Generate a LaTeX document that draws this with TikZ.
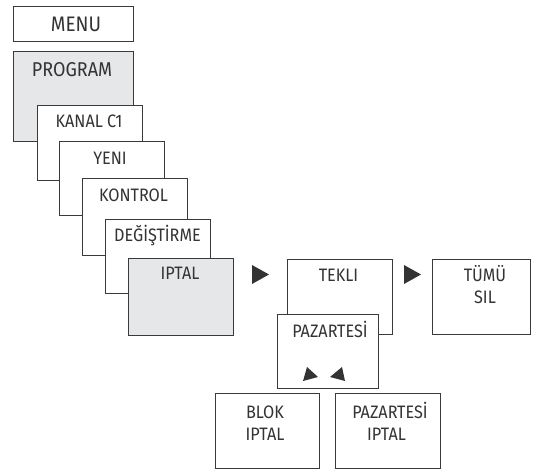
\documentclass[tikz,border=0pt]{standalone}
\usepackage{fontspec}
\setmainfont{Fira Sans}[FakeStretch=0.9]
\definecolor{boxgray}{HTML}{E6E7E8}
\definecolor{edge}{HTML}{3A3A3A}
\definecolor{ink}{HTML}{333333}
\begin{document}
\begin{tikzpicture}[x=1pt,y=-1pt,
  box/.style={draw=edge, line width=0.8pt, fill=white},
  graybox/.style={box, fill=boxgray},
  lbl/.style={anchor=base, inner sep=0pt, text=ink, font=\fontsize{18}{18}\selectfont},
  tri/.style={fill=ink, draw=none}]
\useasboundingbox (0,0) rectangle (533,470);
% left stack
\draw[box] (13,6) rectangle (133,41);
\node[lbl, font=\fontsize{21}{21}\selectfont] (tmenu) at (76,31.5) {MENU};
\draw[graybox] (13,51) rectangle (133,141);
\node[lbl, font=\fontsize{20}{20}\selectfont] (tprog) at (72,77) {PROGRAM};
\draw[box] (37,105) rectangle (142,180);
\node[lbl] (tkanal) at (89,128) {KANAL C1};
\draw[box] (59,141) rectangle (164,215);
\node[lbl] (tyeni) at (110,165) {YENI};
\draw[box] (82,178) rectangle (187,255);
\node[lbl] (tkontrol) at (133.5,201.5) {KONTROL};
\draw[box] (105,219) rectangle (210,293);
\node[lbl] (tdegis) at (157.5,242) {DEĞİŞTİRME};
\draw[graybox] (128,258) rectangle (233,335);
\node[lbl] (tiptal) at (180,280) {IPTAL};
% arrows
\fill[tri] (252,265) -- (252,284) -- (269,274.5) -- cycle;
\draw[box] (287,259) rectangle (392,334);
\node[lbl] (ttekli) at (338.5,281.5) {TEKLI};
\fill[tri] (404,265) -- (404,284) -- (421,274.5) -- cycle;
\draw[box] (432,259) rectangle (530,334);
\node[lbl] (ttumu) at (485,281.5) {TÜMÜ};
\node[lbl] (tsil) at (485,304) {SIL};
\draw[box] (277,314) rectangle (378,388);
\node[lbl] (tpaz) at (330,338) {PAZARTESİ};
\fill[tri] (307,367) -- (303,381) -- (318,377) -- cycle;
\fill[tri] (342,367) -- (345,381) -- (330,377) -- cycle;
\draw[box] (215,393) rectangle (319,468);
\node[lbl] (tblok) at (265,418) {BLOK};
\node[lbl] (tbiptal) at (265,440) {IPTAL};
\draw[box] (335,393) rectangle (440,468);
\node[lbl] (tpaz2) at (390,418) {PAZARTESİ};
\node[lbl] (tpiptal) at (386.5,440) {IPTAL};
\end{tikzpicture}
\end{document}
